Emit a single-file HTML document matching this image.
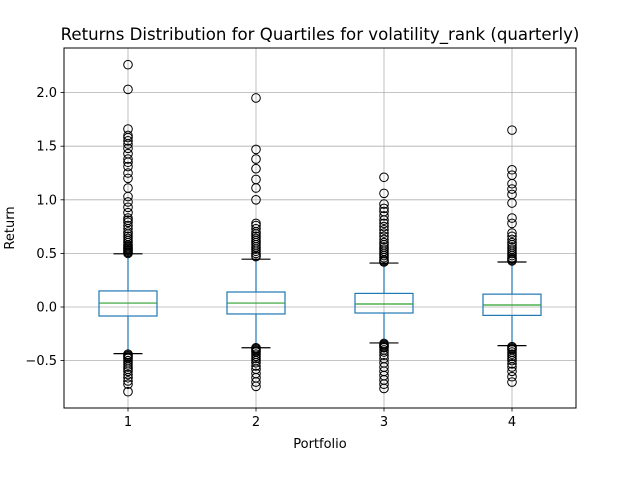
<!DOCTYPE html>
<html><head><meta charset="utf-8"><style>
body{margin:0;background:#fff}
svg text{font-family:"DejaVu Sans","Liberation Sans",sans-serif;fill:#000}
</style></head><body>
<svg id="chart" width="640" height="480" viewBox="0 0 640 480">
<rect width="640" height="480" fill="#fff"/>
<text x="320" y="40" font-size="16.6" text-anchor="middle">Returns Distribution for Quartiles for volatility_rank (quarterly)</text>
<g id="grid"></g>
<g id="boxes"></g>
<rect x="64" y="48" width="512" height="360" fill="none" stroke="#000" stroke-width="1"/>
<g id="axes"></g>
<text x="320" y="448" font-size="13" text-anchor="middle">Portfolio</text>
<text transform="translate(14,228) rotate(-90)" font-size="13" text-anchor="middle">Return</text>
</svg>
<script>
const categories = ["1","2","3","4"];
const q1 = [-0.084, -0.065, -0.056, -0.078];
const medians = [0.037, 0.037, 0.028, 0.019];
const q3 = [0.150, 0.140, 0.127, 0.120];
const whiskerLow = [-0.435, -0.38, -0.335, -0.36];
const whiskerHigh = [0.496, 0.446, 0.41, 0.42];
const outliers1 = [2.26,2.03,1.66,1.60,1.58,1.55,1.52,1.48,1.43,1.38,1.35,1.31,1.25,1.20,1.11,1.03,0.98,0.93,0.88,0.83,0.81,0.79,0.76,0.73,0.70,0.68,0.66,0.64,0.62,0.60,0.58,0.57,0.56,0.55,0.54,0.53,0.52,0.51,0.50,
 -0.44,-0.45,-0.46,-0.47,-0.48,-0.50,-0.52,-0.54,-0.56,-0.58,-0.60,-0.63,-0.66,-0.69,-0.72,-0.79];
const outliers2 = [1.95,1.47,1.38,1.29,1.19,1.11,1.00,0.78,0.76,0.73,0.70,0.68,0.66,0.64,0.62,0.60,0.58,0.56,0.54,0.52,0.50,0.48,0.47,
 -0.38,-0.39,-0.40,-0.41,-0.42,-0.44,-0.46,-0.48,-0.50,-0.52,-0.55,-0.58,-0.62,-0.66,-0.70,-0.74];
const outliers3 = [1.21,1.06,0.96,0.92,0.89,0.85,0.81,0.78,0.75,0.72,0.69,0.66,0.63,0.60,0.58,0.56,0.54,0.52,0.50,0.48,0.46,0.44,0.43,0.42,
 -0.34,-0.35,-0.36,-0.37,-0.38,-0.40,-0.42,-0.45,-0.48,-0.52,-0.56,-0.60,-0.64,-0.68,-0.72,-0.76];
const outliers4 = [1.65,1.28,1.23,1.15,1.10,1.05,0.97,0.83,0.78,0.69,0.66,0.63,0.60,0.58,0.56,0.54,0.52,0.50,0.48,0.46,0.45,0.44,0.43,
 -0.37,-0.38,-0.39,-0.40,-0.42,-0.44,-0.46,-0.48,-0.50,-0.53,-0.56,-0.60,-0.65,-0.70];
const yTicks = [-0.5, 0.0, 0.5, 1.0, 1.5, 2.0];
const yTickLabels = ["−0.5","0.0","0.5","1.0","1.5","2.0"];

const outliers = [outliers1, outliers2, outliers3, outliers4];
const NS = "http://www.w3.org/2000/svg";
const L=64, R=576, T=48, B=408, YMIN=-0.942, YMAX=2.416;
const xScale = i => L + (i + 0.5) / categories.length * (R - L);
const yScale = v => B - (v - YMIN) / (YMAX - YMIN) * (B - T);
function mk(tag, attrs, parent){const e=document.createElementNS(NS,tag);for(const k in attrs)e.setAttribute(k,attrs[k]);parent.appendChild(e);return e;}
const grid=document.getElementById('grid'), boxes=document.getElementById('boxes'), axes=document.getElementById('axes');
yTicks.forEach((v,i)=>{
  const y=yScale(v);
  const g=mk('line',{x1:L,x2:R,y1:y,y2:y,stroke:'#b0b0b0','stroke-width':0.8},grid);
  
  
  const t=mk('line',{x1:L-3.5,x2:L,y1:y,y2:y,stroke:'#000','stroke-width':0.8},axes);
  
  
  const tx=mk('text',{x:L-7,y:y+4.5,'font-size':13,'text-anchor':'end'},axes);
  tx.textContent=yTickLabels[i];
  
  
});
categories.forEach((c,i)=>{
  const x=xScale(i);
  const g=mk('line',{x1:x,x2:x,y1:T,y2:B,stroke:'#b0b0b0','stroke-width':0.8},grid);
  
  
  const t=mk('line',{x1:x,x2:x,y1:B,y2:B+3.5,stroke:'#000','stroke-width':0.8},axes);
  
  
  const tx=mk('text',{x:x,y:B+18,'font-size':13,'text-anchor':'middle'},axes);
  tx.textContent=c;
  
  
  const hw=29, cw=14.5, blue='#1f77b4';
  const grp=mk('g',{},boxes);
  
  
  mk('line',{x1:x,x2:x,y1:yScale(q3[i]),y2:yScale(whiskerHigh[i]),stroke:blue,'stroke-width':1.2},grp);
  mk('line',{x1:x,x2:x,y1:yScale(q1[i]),y2:yScale(whiskerLow[i]),stroke:blue,'stroke-width':1.2},grp);
  mk('line',{x1:x-cw,x2:x+cw,y1:yScale(whiskerHigh[i]),y2:yScale(whiskerHigh[i]),stroke:'#000','stroke-width':1.2},grp);
  mk('line',{x1:x-cw,x2:x+cw,y1:yScale(whiskerLow[i]),y2:yScale(whiskerLow[i]),stroke:'#000','stroke-width':1.2},grp);
  mk('rect',{x:x-hw,y:yScale(q3[i]),width:2*hw,height:yScale(q1[i])-yScale(q3[i]),fill:'none',stroke:blue,'stroke-width':1.2},grp);
  mk('line',{x1:x-hw,x2:x+hw,y1:yScale(medians[i]),y2:yScale(medians[i]),stroke:'#2ca02c','stroke-width':1.2},grp);
  outliers[i].forEach(v=>{
    const o=mk('circle',{cx:x,cy:yScale(v),r:4.3,fill:'none',stroke:'#000','stroke-width':1},grp);
    
    
  });
});
</script>
</body></html>
